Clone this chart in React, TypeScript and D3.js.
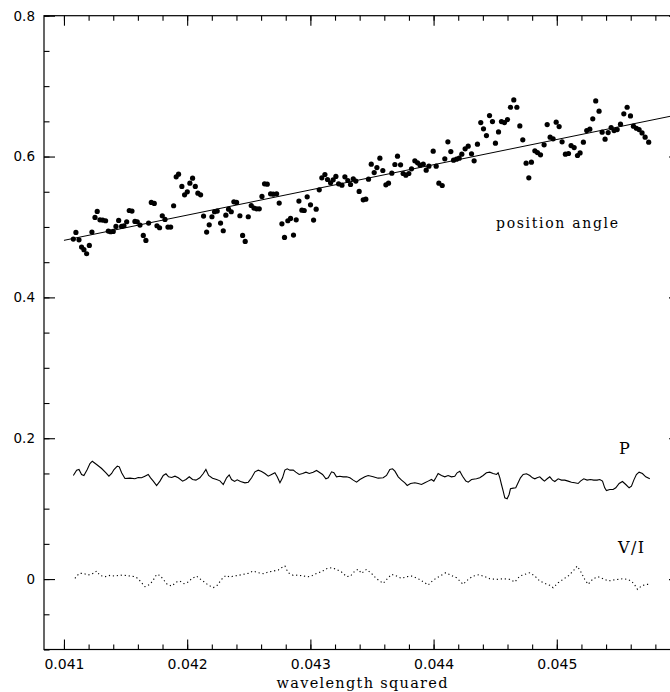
import * as d3 from "d3";
import React, { useEffect, useRef } from "react";

// position angle measurements (wavelength squared vs. value)
const paX = [0.041076, 0.041097, 0.041122, 0.041143, 0.041162, 0.041184, 0.041206, 0.041227, 0.041252, 0.04127, 0.041292, 0.041314, 0.041338, 0.04136, 0.041379, 0.0414, 0.041422, 0.041444, 0.041468, 0.041487, 0.041509, 0.04153, 0.041552, 0.041576, 0.041595, 0.041617, 0.041644, 0.041665, 0.041687, 0.041709, 0.041733, 0.041755, 0.041776, 0.041798, 0.04182, 0.041844, 0.041866, 0.04189, 0.041911, 0.04193, 0.041957, 0.041979, 0.042001, 0.042022, 0.042044, 0.042066, 0.042087, 0.042109, 0.042133, 0.042158, 0.042179, 0.042201, 0.042222, 0.042244, 0.042271, 0.042293, 0.042314, 0.042336, 0.042358, 0.042379, 0.042401, 0.042428, 0.04245, 0.042471, 0.042496, 0.04252, 0.042542, 0.042563, 0.042585, 0.042607, 0.042628, 0.04265, 0.042677, 0.042699, 0.042726, 0.042747, 0.042769, 0.04279, 0.042817, 0.042839, 0.042863, 0.042885, 0.042907, 0.042931, 0.04295, 0.042974, 0.043001, 0.043026, 0.043047, 0.043072, 0.043093, 0.043118, 0.043139, 0.043164, 0.043185, 0.043207, 0.043229, 0.043256, 0.04328, 0.043304, 0.043326, 0.043348, 0.043369, 0.043396, 0.043429, 0.04345, 0.043472, 0.043494, 0.043518, 0.04354, 0.043564, 0.043588, 0.043613, 0.043634, 0.043661, 0.043686, 0.043707, 0.043732, 0.043753, 0.043775, 0.043799, 0.043821, 0.043848, 0.04387, 0.043891, 0.043916, 0.04394, 0.043962, 0.043997, 0.044021, 0.044043, 0.04407, 0.044091, 0.044116, 0.04414, 0.044162, 0.044186, 0.044208, 0.044229, 0.044256, 0.044281, 0.044308, 0.044329, 0.044356, 0.044383, 0.044405, 0.044429, 0.044454, 0.044478, 0.044502, 0.044527, 0.044551, 0.044575, 0.0446, 0.044624, 0.044651, 0.044676, 0.0447, 0.044724, 0.044751, 0.044773, 0.044794, 0.044822, 0.044843, 0.044868, 0.044897, 0.044922, 0.044946, 0.04497, 0.044995, 0.045019, 0.045043, 0.04507, 0.045095, 0.045116, 0.045141, 0.045168, 0.045189, 0.045216, 0.045243, 0.045268, 0.045292, 0.045316, 0.045343, 0.045368, 0.045392, 0.045417, 0.045441, 0.045465, 0.04549, 0.045517, 0.045544, 0.045571, 0.045598, 0.045622, 0.045646, 0.045668, 0.045692, 0.045717, 0.045746];
const paY = [0.4828, 0.4922, 0.4818, 0.4714, 0.4677, 0.462, 0.4738, 0.4927, 0.5135, 0.522, 0.5102, 0.5098, 0.5088, 0.4941, 0.4932, 0.4937, 0.5008, 0.5093, 0.5008, 0.5017, 0.5074, 0.5234, 0.5225, 0.5078, 0.5074, 0.5027, 0.488, 0.4809, 0.5055, 0.5348, 0.5334, 0.5017, 0.4989, 0.5159, 0.5107, 0.4998, 0.4998, 0.5301, 0.5712, 0.575, 0.5575, 0.5457, 0.5499, 0.5622, 0.5693, 0.5575, 0.548, 0.5457, 0.5154, 0.4927, 0.5031, 0.5145, 0.5216, 0.5225, 0.5055, 0.4946, 0.5168, 0.5253, 0.5216, 0.5357, 0.5348, 0.5159, 0.488, 0.4795, 0.5145, 0.5305, 0.5268, 0.5258, 0.5258, 0.5433, 0.5613, 0.5608, 0.5471, 0.5466, 0.5471, 0.5339, 0.5045, 0.4852, 0.5088, 0.5121, 0.4885, 0.5102, 0.5367, 0.5239, 0.5234, 0.5428, 0.5315, 0.5098, 0.5253, 0.5528, 0.5698, 0.5745, 0.5674, 0.5627, 0.567, 0.5717, 0.5613, 0.5594, 0.5712, 0.566, 0.5603, 0.5684, 0.5651, 0.5504, 0.5386, 0.5395, 0.5679, 0.5892, 0.5773, 0.5844, 0.5977, 0.5802, 0.5599, 0.5622, 0.5764, 0.5887, 0.6005, 0.5882, 0.5759, 0.5736, 0.5759, 0.5826, 0.5939, 0.5911, 0.5878, 0.5892, 0.5807, 0.5863, 0.6076, 0.5863, 0.5622, 0.5589, 0.5967, 0.6209, 0.6071, 0.5948, 0.5963, 0.5977, 0.6034, 0.6109, 0.6147, 0.6038, 0.5939, 0.6175, 0.6483, 0.6393, 0.6298, 0.6582, 0.6497, 0.619, 0.635, 0.6497, 0.6483, 0.6525, 0.67, 0.6804, 0.67, 0.6435, 0.6237, 0.5906, 0.5698, 0.592, 0.6081, 0.6057, 0.6024, 0.6166, 0.6454, 0.6275, 0.6251, 0.6488, 0.6426, 0.6209, 0.6034, 0.6043, 0.6156, 0.6128, 0.6015, 0.6052, 0.6204, 0.6369, 0.6388, 0.6535, 0.679, 0.6644, 0.6346, 0.6246, 0.6341, 0.6412, 0.6369, 0.6383, 0.6459, 0.6606, 0.67, 0.6577, 0.6431, 0.6402, 0.6383, 0.6336, 0.6275, 0.6204];

// straight-line fit through the position angles
const fitX = [0.041, 0.046];
const fitY = [0.481, 0.66];

// fractional polarisation P
const pX = [0.041076, 0.041103, 0.041122, 0.041143, 0.041162, 0.041189, 0.041211, 0.04123, 0.041265, 0.041306, 0.041341, 0.041365, 0.041387, 0.041406, 0.041433, 0.041449, 0.041468, 0.041495, 0.041536, 0.041576, 0.041603, 0.04163, 0.041657, 0.041684, 0.041703, 0.041725, 0.041752, 0.041779, 0.041806, 0.041828, 0.041849, 0.041874, 0.041901, 0.041928, 0.041963, 0.04199, 0.042017, 0.042044, 0.042071, 0.042103, 0.042131, 0.042152, 0.042174, 0.042206, 0.042239, 0.042266, 0.042293, 0.04232, 0.042341, 0.04236, 0.042385, 0.042406, 0.042433, 0.042469, 0.042496, 0.042523, 0.04255, 0.042577, 0.042604, 0.042631, 0.042658, 0.042685, 0.042712, 0.042731, 0.042753, 0.042774, 0.042793, 0.042812, 0.042834, 0.042861, 0.042882, 0.042909, 0.042937, 0.042964, 0.042991, 0.043023, 0.04305, 0.043072, 0.043099, 0.043126, 0.043145, 0.043172, 0.043191, 0.043212, 0.043239, 0.043266, 0.043294, 0.043321, 0.043348, 0.043375, 0.043402, 0.043442, 0.043469, 0.04351, 0.04355, 0.043591, 0.043618, 0.043645, 0.043667, 0.043686, 0.043713, 0.04374, 0.043767, 0.043786, 0.043813, 0.043848, 0.043875, 0.043902, 0.043929, 0.043956, 0.043983, 0.044002, 0.044018, 0.044037, 0.044064, 0.044091, 0.044118, 0.044145, 0.044172, 0.044191, 0.044213, 0.044235, 0.044262, 0.044281, 0.044308, 0.044348, 0.044375, 0.044402, 0.044429, 0.044456, 0.044483, 0.044511, 0.044524, 0.044538, 0.044551, 0.044565, 0.044578, 0.044597, 0.044613, 0.044624, 0.044646, 0.044667, 0.044686, 0.044705, 0.044727, 0.044754, 0.044781, 0.044803, 0.044822, 0.04484, 0.044862, 0.044884, 0.0449, 0.044922, 0.044943, 0.044965, 0.044984, 0.045011, 0.045038, 0.045065, 0.045092, 0.045119, 0.045146, 0.045173, 0.045192, 0.045219, 0.045246, 0.045273, 0.0453, 0.045327, 0.045349, 0.045371, 0.045389, 0.045403, 0.04543, 0.045457, 0.045479, 0.045506, 0.045533, 0.04556, 0.045587, 0.045606, 0.045625, 0.045646, 0.045668, 0.045695, 0.045722, 0.045755];
const pY = [0.1471, 0.1547, 0.1556, 0.1485, 0.1471, 0.1556, 0.1641, 0.1674, 0.1627, 0.157, 0.1509, 0.1461, 0.1499, 0.1556, 0.1603, 0.1594, 0.1509, 0.1428, 0.1433, 0.1424, 0.1443, 0.1438, 0.1461, 0.1485, 0.1438, 0.1391, 0.1329, 0.1391, 0.1471, 0.1495, 0.1452, 0.1443, 0.1461, 0.1438, 0.1391, 0.1414, 0.1452, 0.1414, 0.1405, 0.1438, 0.1499, 0.1556, 0.1471, 0.1433, 0.1414, 0.1395, 0.1343, 0.1438, 0.148, 0.1414, 0.1386, 0.1409, 0.1386, 0.1367, 0.1376, 0.1438, 0.1523, 0.1547, 0.1528, 0.1499, 0.1461, 0.1485, 0.1509, 0.1452, 0.1367, 0.1438, 0.1547, 0.1566, 0.1547, 0.1547, 0.1518, 0.1485, 0.1499, 0.1518, 0.1499, 0.1518, 0.1542, 0.1518, 0.1485, 0.1424, 0.1438, 0.1523, 0.1509, 0.1452, 0.1461, 0.1452, 0.1452, 0.1438, 0.1405, 0.1376, 0.1414, 0.1452, 0.1471, 0.1452, 0.1433, 0.1438, 0.1471, 0.1556, 0.1566, 0.1532, 0.1452, 0.1405, 0.1367, 0.1329, 0.1357, 0.1367, 0.1357, 0.1343, 0.1367, 0.1391, 0.1414, 0.1391, 0.1438, 0.1499, 0.1471, 0.1452, 0.1471, 0.1452, 0.1461, 0.1509, 0.1532, 0.1461, 0.1391, 0.1376, 0.1414, 0.1424, 0.1438, 0.1471, 0.1509, 0.1518, 0.1499, 0.1485, 0.1509, 0.1438, 0.1343, 0.1249, 0.1154, 0.114, 0.1201, 0.1282, 0.1291, 0.1296, 0.1367, 0.1438, 0.1485, 0.1495, 0.1471, 0.1438, 0.1424, 0.1438, 0.1452, 0.1414, 0.1391, 0.1424, 0.1452, 0.1405, 0.1386, 0.1424, 0.1405, 0.1405, 0.1391, 0.1376, 0.1367, 0.1357, 0.1391, 0.1424, 0.1405, 0.1414, 0.1405, 0.1405, 0.1414, 0.1391, 0.1296, 0.1258, 0.1272, 0.1272, 0.1296, 0.1357, 0.1386, 0.1343, 0.1296, 0.132, 0.1405, 0.1485, 0.1518, 0.1499, 0.1452, 0.1424];

// circular polarisation V/I
const viX = [0.041089, 0.041124, 0.041157, 0.041197, 0.041238, 0.041265, 0.041292, 0.041333, 0.041373, 0.041414, 0.041454, 0.041495, 0.041536, 0.041576, 0.041603, 0.04163, 0.041657, 0.041698, 0.041725, 0.041752, 0.041779, 0.041806, 0.041838, 0.041874, 0.041914, 0.041941, 0.041974, 0.042009, 0.042036, 0.042076, 0.042103, 0.042136, 0.042171, 0.042212, 0.042244, 0.042279, 0.042314, 0.042347, 0.042379, 0.042415, 0.042455, 0.042496, 0.042536, 0.042577, 0.042617, 0.042658, 0.042698, 0.042739, 0.042766, 0.042793, 0.04282, 0.042861, 0.042901, 0.042942, 0.042982, 0.043018, 0.04305, 0.043091, 0.043131, 0.043172, 0.043212, 0.043253, 0.043294, 0.043326, 0.043361, 0.043388, 0.043415, 0.043456, 0.043496, 0.043537, 0.043591, 0.043632, 0.043659, 0.043699, 0.04374, 0.04378, 0.043821, 0.043875, 0.043929, 0.043956, 0.043997, 0.044051, 0.044099, 0.044145, 0.044186, 0.04424, 0.044281, 0.044321, 0.04437, 0.044416, 0.044456, 0.044511, 0.044565, 0.044619, 0.044659, 0.0447, 0.04474, 0.044781, 0.044822, 0.044862, 0.044903, 0.044943, 0.04497, 0.045011, 0.045051, 0.045092, 0.045133, 0.045165, 0.045192, 0.045227, 0.045254, 0.045295, 0.045335, 0.045376, 0.045417, 0.045457, 0.045498, 0.045538, 0.045571, 0.045606, 0.045633, 0.045655, 0.045687, 0.045722, 0.045755];
const viY = [0.001, 0.0081, 0.0081, 0.0057, 0.0081, 0.0114, 0.0052, 0.0034, 0.0052, 0.0043, 0.0057, 0.0052, 0.0043, 0.0034, 0.0005, -0.0052, -0.0108, -0.0075, -0.0014, 0.0067, 0.0052, -0.0004, -0.0075, -0.0099, -0.0042, -0.0028, -0.0066, -0.0042, 0.0005, 0.0043, 0.0005, -0.0037, -0.0085, -0.0122, -0.0089, -0.0004, 0.0052, 0.0029, 0.0043, 0.0052, 0.0067, 0.0081, 0.0114, 0.009, 0.0076, 0.01, 0.0114, 0.0128, 0.0161, 0.0185, 0.009, 0.0052, 0.0057, 0.0043, 0.0034, 0.0052, 0.0081, 0.0105, 0.0147, 0.0161, 0.0138, 0.01, 0.0034, 0.0043, 0.0114, 0.0138, 0.0081, 0.0138, 0.0081, 0.0005, -0.0061, 0.0019, 0.0067, 0.0043, 0.001, 0.0034, 0.0043, 0.0005, -0.0052, -0.0085, -0.0014, 0.0043, 0.009, 0.0052, 0.0019, -0.0075, -0.0004, 0.0043, 0.0062, 0.0034, 0.0005, -0.0004, 0.0005, -0.0004, -0.0042, 0.0043, 0.0067, 0.009, 0.0043, -0.0028, -0.0061, -0.0089, -0.0122, -0.0052, -0.0004, 0.0043, 0.0114, 0.0185, 0.0114, -0.0004, -0.0075, 0.0005, 0.0034, 0.0005, -0.0028, -0.0014, -0.0004, 0.0005, -0.0004, -0.0028, -0.0085, -0.0146, -0.0099, -0.0075, -0.0075];

const xTicks = [0.041, 0.042, 0.043, 0.044, 0.045];
const xTickLabels = ["0.041", "0.042", "0.043", "0.044", "0.045"];
const yTicks = [0, 0.2, 0.4, 0.6, 0.8];
const yTickLabels = ["0", "0.2", "0.4", "0.6", "0.8"];

const zip = (xs: number[], ys: number[]) =>
    d3.range(Math.min(xs.length, ys.length)).map((i) => [xs[i], ys[i]] as [number, number]);

export default function App() {
    const ref = useRef<SVGSVGElement>(null);

    useEffect(() => {
        const svg = d3.select(ref.current);
        svg.selectAll("*").remove();

        const left = 44, right = 680, top = 15.7, bottom = 649.5;
        const x = d3.scaleLinear().domain([0.040838, 0.046]).range([left, right]);
        const y = d3.scaleLinear().domain([-0.1, 0.8]).range([bottom, top]);

        const xMinor = d3.range(0, 26).map((i) => 0.041 + i * 0.0002);
        const yMinor = d3.range(-2, 17).map((i) => i * 0.05);

        const g = svg.append("g");

        // frame
        g.append("rect")
            .attr("x", left)
            .attr("y", top)
            .attr("width", right - left)
            .attr("height", bottom - top)
            .attr("fill", "none")
            .attr("stroke", "#000")
            .attr("stroke-width", 1.2);

        const clean = (sel: any) => {
            sel.select(".domain").remove();
            sel.selectAll("line").attr("stroke", "#000").attr("stroke-width", 1.1);
        };

        // minor ticks on all four sides
        g.append("g").attr("transform", `translate(0,${bottom})`)
            .call(d3.axisBottom(x).tickValues(xMinor).tickSize(-5).tickSizeOuter(0).tickFormat(() => ""))
            .call(clean);
        g.append("g").attr("transform", `translate(0,${top})`)
            .call(d3.axisTop(x).tickValues(xMinor).tickSize(-5).tickSizeOuter(0).tickFormat(() => ""))
            .call(clean);
        g.append("g").attr("transform", `translate(${left},0)`)
            .call(d3.axisLeft(y).tickValues(yMinor).tickSize(-5.5).tickSizeOuter(0).tickFormat(() => ""))
            .call(clean);
        g.append("g").attr("transform", `translate(${right},0)`)
            .call(d3.axisRight(y).tickValues(yMinor).tickSize(-5.5).tickSizeOuter(0).tickFormat(() => ""))
            .call(clean);

        // major ticks + labels
        const xb = g.append("g").attr("transform", `translate(0,${bottom})`)
            .call(d3.axisBottom(x).tickValues(xTicks).tickSize(-10).tickSizeOuter(0).tickPadding(9.5)
                .tickFormat((d, i) => xTickLabels[i]))
            .call(clean);
        xb.attr("font-family", "DejaVu Sans").attr("font-size", 14);
        xb.selectAll("text").attr("fill", "#000");

        g.append("g").attr("transform", `translate(0,${top})`)
            .call(d3.axisTop(x).tickValues(xTicks).tickSize(-10).tickSizeOuter(0).tickFormat(() => ""))
            .call(clean);

        const yl = g.append("g").attr("transform", `translate(${left},0)`)
            .call(d3.axisLeft(y).tickValues(yTicks).tickSize(-11).tickSizeOuter(0).tickPadding(9)
                .tickFormat((d, i) => yTickLabels[i]))
            .call(clean);
        yl.attr("font-family", "DejaVu Sans").attr("font-size", 13.5);
        yl.selectAll("text").attr("fill", "#000");

        g.append("g").attr("transform", `translate(${right},0)`)
            .call(d3.axisRight(y).tickValues(yTicks).tickSize(-11).tickSizeOuter(0).tickFormat(() => ""))
            .call(clean);

        const line = d3.line<[number, number]>().x((d) => x(d[0])).y((d) => y(d[1]));

        // fit line
        g.append("path")
            .attr("d", line(zip(fitX, fitY)))
            .attr("fill", "none")
            .attr("stroke", "#000")
            .attr("stroke-width", 1);

        // position angle points
        g.append("g")
            .selectAll("circle")
            .data(zip(paX, paY))
            .enter()
            .append("circle")
            .attr("cx", (d) => x(d[0]))
            .attr("cy", (d) => y(d[1]))
            .attr("r", 2.6)
            .attr("fill", "#000");

        // P
        g.append("path")
            .attr("d", line(zip(pX, pY)))
            .attr("fill", "none")
            .attr("stroke", "#000")
            .attr("stroke-width", 1.1);

        // V/I
        g.append("path")
            .attr("d", line(zip(viX, viY)))
            .attr("fill", "none")
            .attr("stroke", "#000")
            .attr("stroke-width", 1.1)
            .attr("stroke-dasharray", "1.2 2.8");

        // annotations
        const label = (txt: string, tx: number, ty: number, size: number, len?: number, anchor = "start") => {
            const t = g.append("text")
                .attr("x", tx)
                .attr("y", ty)
                .attr("font-family", "DejaVu Serif")
                .attr("font-size", size)
                .attr("text-anchor", anchor)
                .attr("fill", "#000")
                .text(txt);
            if (len) t.attr("textLength", len).attr("lengthAdjust", "spacing");
        };
        label("position angle", 496, 227.5, 14, 122);
        label("P", 619, 454, 16);
        label("V/I", 618, 552.5, 16, 26);
        label("wavelength squared", 362, 688, 14.5, 171, "middle");
    }, []);

    return (
        <svg
            ref={ref}
            width={670}
            height={692}
            style={{ position: "absolute", left: 0, top: 0, background: "#fff" }}
        />
    );
}
